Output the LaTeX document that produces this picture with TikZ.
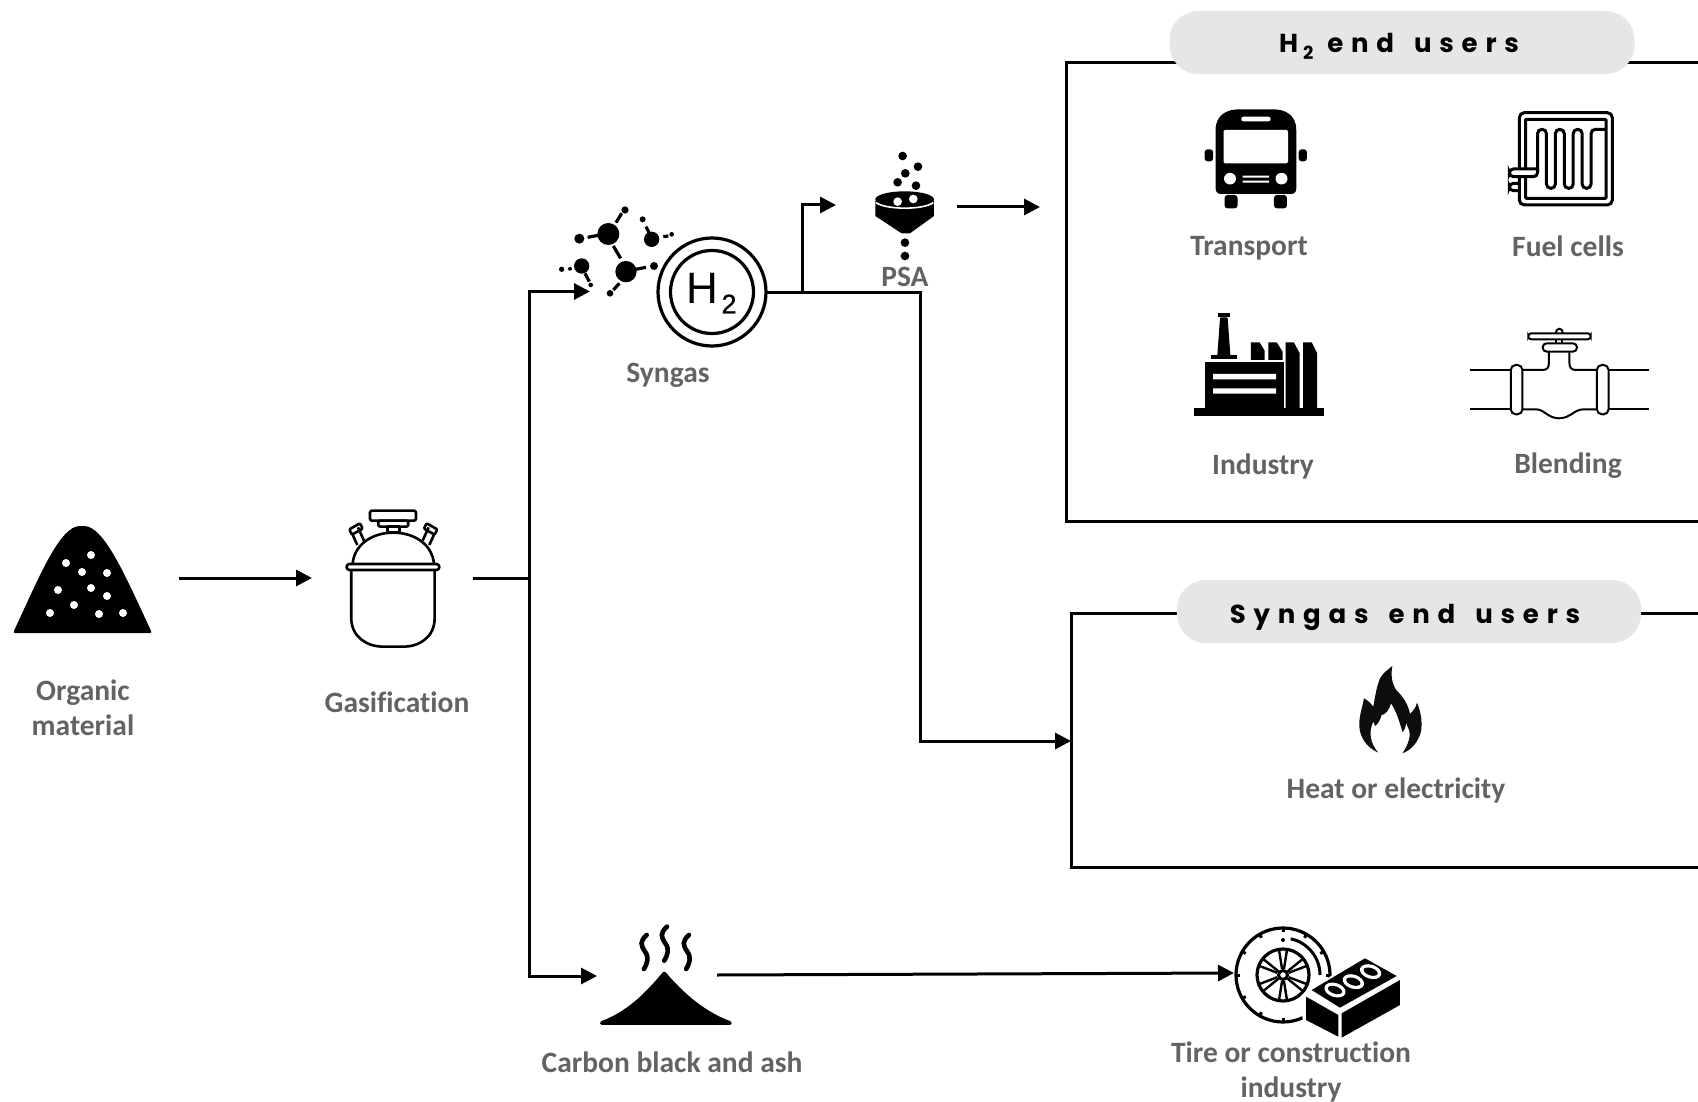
\documentclass[tikz,border=0pt]{standalone}
\usepackage{fontspec}
\setmainfont[Ligatures=NoCommon]{Carlito}
\newfontfamily\titlefont[LetterSpace=30]{Poppins}
\newfontfamily\symfont{Liberation Sans}
\newfontfamily\symboldfont[FakeBold=0.8]{Liberation Sans}
\usetikzlibrary{arrows.meta,calc}
\definecolor{lab}{HTML}{636363}
\definecolor{pillc}{HTML}{E6E6E6}
\tikzset{
  lbl/.style={text=lab,font=\fontsize{29.5}{35}\selectfont\bfseries,align=center,inner sep=0pt},
  ttl/.style={text=black,font=\fontsize{26}{30}\selectfont\titlefont\bfseries,inner sep=0pt},
  pill/.style={fill=pillc,rounded corners=29pt,minimum height=63pt,inner sep=0pt},
  conn/.style={line width=3pt,draw=black},
  arr/.style={conn,-{Triangle[length=16pt,width=16pt]}},
  frame/.style={line width=3pt,draw=black},
  ico/.style={line width=2.6pt,draw=black,line join=round},
  bond/.style={line width=3.2pt,draw=black}
}
\begin{document}
\begin{tikzpicture}[x=1pt,y=-1pt]
\useasboundingbox (0,0) rectangle (1698,1102);
\fill[white] (0,0) rectangle (1698,1102);

% frames
\draw[frame] (1190,63) -- (1066,63) -- (1066,521) -- (1698,521);
\draw[frame] (1620,63) -- (1698,63);
\draw[frame] (1190,613) -- (1071,613) -- (1071,867) -- (1698,867);
\draw[frame] (1630,613) -- (1698,613);
\node[pill,minimum width=465pt] (h2pill) at (1402,42.5) {};
\node[pill,minimum width=464pt] (sgpill) at (1409,611.5) {};
\node[ttl] (h2title) at (1399,46) {H\hspace{5pt}\raisebox{-7pt}{\fontsize{18}{18}\selectfont 2}\hspace{14pt}end\hspace{20pt}users};
\node[ttl] (sgtitle) at (1405,617) {Syngas\hspace{20pt}end\hspace{20pt}users};

% organic material
\fill[black,rounded corners=2pt] (13,633) .. controls (40,575) and (60,526) .. (82,526)
   .. controls (104,526) and (125,575) .. (152,633) -- cycle;
\foreach \p in {(66,563),(91,555),(82,572),(107,573),(58,590),(91,588),(107,596),(74,605),(50,613),(99,614),(123,613)}
  \fill[white] \p circle (4);

% reactor
\begin{scope}[shift={(0,490)},x=0.3333pt,y=-0.3333pt]
\draw[ico,rounded corners=2pt] (1110,62) rectangle (1248,92);
\draw[ico,rounded corners=2pt] (1135,92) rectangle (1225,110);
\draw[ico] (1162,110) rectangle (1198,128);
\draw[ico] (1072,165) -- (1056,130) (1092,152) -- (1074,112);
\draw[ico] (1288,165) -- (1304,130) (1268,152) -- (1286,112);
\draw[ico,rounded corners=1pt] (1048,118) -- (1080,100) -- (1088,116) -- (1056,134) -- cycle;
\draw[ico,rounded corners=1pt] (1312,118) -- (1280,100) -- (1272,116) -- (1304,134) -- cycle;
\draw[ico,fill=white] (1058,222) .. controls (1062,165) and (1115,128) .. (1180,128)
   .. controls (1245,128) and (1298,165) .. (1302,222);
\draw[ico,rounded corners=2.8pt,fill=white] (1040,222) rectangle (1318,240);
\draw[ico] (1054,240) -- (1054,385) .. controls (1054,440) and (1100,470) .. (1150,470)
   -- (1210,470) .. controls (1260,470) and (1304,440) .. (1304,385) -- (1304,240);
\end{scope}

% syngas molecule
\begin{scope}[shift={(540,130)},x=0.3333pt,y=-0.3333pt]
\foreach \a/\b/\r in {205/312/33,258/425/32,125/408/23,335/328/23,118/326/15,342/408/12,308/268/9,152/465/7,255/240/11,210/490/10,65/418/8,395/313/7}
  \fill[black] (\a,\b) circle (\r);
\draw[bond] (143,322) -- (175,316) (220,348) -- (242,385) (228,278) -- (245,250)
   (288,418) -- (318,412) (238,460) -- (220,480) (135,430) -- (148,455)
   (85,418) -- (95,415) (318,290) -- (328,310) (370,320) -- (385,318);
\end{scope}

% H2 circle
\node[circle,draw=black,line width=3.2pt,minimum size=108pt,inner sep=0pt] (h2c) at (712,292) {};
\draw[line width=3.2pt] (h2c.center) circle (41.5);
\node[inner sep=0pt,font=\fontsize{44}{44}\selectfont\symfont] (h2h) at (702,288) {H};
\node[inner sep=0pt,font=\fontsize{27}{27}\selectfont\symboldfont] (h2s) at (729,304) {2};

% PSA funnel
\begin{scope}[shift={(540,130)},x=0.3333pt,y=-0.3333pt]
\foreach \a/\b in {1088/78,1134/110,1096/130,1073/157,1128/167,1095/338,1095/378}
  \fill[black] (\a,\b) circle (13);
\fill[black] (1006,212) -- (1006,258) -- (1085,310) -- (1110,310) -- (1182,258) -- (1182,212) -- cycle;
\fill[black] (1094,208) ellipse (88 and 24);
\draw[white,line width=1.6pt] (1008,218) .. controls (1040,240) and (1150,240) .. (1180,218);
\fill[white] (1073,215) circle (13) (1120,207) circle (13);
\end{scope}

% bus
\begin{scope}[shift={(1160,80)},x=0.3432pt,y=-0.3333pt]
\fill[black] (162,150) .. controls (162,105) and (195,88) .. (230,88) -- (330,88)
   .. controls (365,88) and (397,105) .. (397,150) -- (397,325)
   .. controls (397,338) and (390,342) .. (380,342) -- (180,342)
   .. controls (170,342) and (162,338) .. (162,325) -- cycle;
\fill[white,rounded corners=1.5pt] (185,150) rectangle (373,250);
\fill[white,rounded corners=2pt] (237,110) rectangle (322,124);
\fill[white] (204,296) circle (17.5) (354,296) circle (17.5);
\fill[white] (241,287) rectangle (318,293) (241,302) rectangle (318,308);
\fill[black,rounded corners=3pt] (188,345) rectangle (226,385) (332,345) rectangle (370,385);
\fill[black,rounded corners=3pt] (130,208) rectangle (155,244) (404,208) rectangle (428,244);
\end{scope}

% fuel cell
\begin{scope}[shift={(1160,80)},x=0.3432pt,y=-0.3333pt]
\draw[line width=3pt,rounded corners=5pt] (1047,98) rectangle (1318,375);
\draw[line width=3pt,rounded corners=1pt] (1065,118) rectangle (1300,355);
\draw[line width=3pt,rounded corners=4.3pt] (1100,278) -- (1100,148) -- (1126,148) -- (1126,325) -- (1152,325)
   -- (1152,148) -- (1178,148) -- (1178,325) -- (1204,325) -- (1204,148) -- (1230,148) -- (1230,325) -- (1256,325)
   -- (1256,148) -- (1300,148);
\draw[line width=3pt,fill=white,rounded corners=4pt] (1100,267) -- (1018,267) -- (1018,290) -- (1100,290) -- (1100,267);
\draw[line width=3pt,rounded corners=4pt] (1047,310) -- (1018,310) -- (1018,332) -- (1047,332);
\end{scope}

% factory
\begin{scope}[shift={(1160,80)},x=0.3432pt,y=-0.3333pt]
\fill[black] (100,984) rectangle (478,1008);
\fill[black] (130,845) rectangle (362,984);
\fill[white] (155,882) rectangle (338,898) (155,925) rectangle (338,941);
\fill[black] (168,700) rectangle (204,712);
\fill[black] (175,712) -- (197,712) -- (205,826) -- (167,826) -- cycle;
\fill[black] (148,826) rectangle (225,838);
\fill[black] (265,787) -- (290,787) -- (305,812) -- (305,840) -- (265,840) -- cycle;
\fill[black] (316,787) -- (340,787) -- (357,815) -- (357,840) -- (316,840) -- cycle;
\fill[black] (366,787) -- (390,787) -- (407,820) -- (407,984) -- (366,984) -- cycle;
\fill[black] (417,787) -- (442,787) -- (458,820) -- (458,984) -- (417,984) -- cycle;
\end{scope}

% valve
\begin{scope}[shift={(1160,80)},x=0.3432pt,y=-0.3333pt,line width=2pt]
\draw (903,870) -- (1022,870) (903,988) -- (1022,988) (1307,870) -- (1425,870) (1307,988) -- (1425,988);
\draw[rounded corners=5pt] (1022,855) rectangle (1056,1003) (1273,855) rectangle (1307,1003);
\draw (1056,870) -- (1115,870) .. controls (1128,870) and (1133,862) .. (1133,850) -- (1133,815)
   (1193,815) -- (1193,850) .. controls (1193,862) and (1198,870) .. (1212,870) -- (1273,870);
\draw (1056,988) -- (1095,988) .. controls (1120,988) and (1130,1015) .. (1163,1015)
   .. controls (1196,1015) and (1206,988) .. (1235,988) -- (1273,988);
\draw[rounded corners=4pt] (1115,790) rectangle (1215,815);
\draw[rounded corners=3pt] (1073,760) rectangle (1255,778);
\draw (1155,778) -- (1155,790) (1172,778) -- (1172,790);
\draw (1153,760) .. controls (1153,742) and (1174,742) .. (1174,760);
\end{scope}

% flame
\begin{scope}[shift={(1240,600)},x=0.3333pt,y=-0.3333pt]
\fill[black!95] (415,458) .. controls (375,440) and (355,405) .. (358,365)
  .. controls (360,340) and (368,318) .. (372,295)
  .. controls (382,300) and (392,310) .. (400,320)
  .. controls (405,290) and (410,260) .. (420,235)
  .. controls (430,218) and (445,208) .. (457,198)
  .. controls (452,225) and (455,250) .. (470,272)
  .. controls (490,290) and (505,315) .. (510,342)
  .. controls (520,332) and (528,322) .. (531,308)
  .. controls (542,335) and (548,365) .. (543,395)
  .. controls (535,425) and (515,450) .. (487,460)
  .. controls (505,435) and (515,405) .. (505,385)
  .. controls (502,378) and (500,372) .. (498,368)
  .. controls (497,380) and (495,390) .. (488,397)
  .. controls (478,365) and (470,335) .. (453,310)
  .. controls (448,330) and (435,345) .. (425,345)
  .. controls (420,360) and (415,372) .. (405,378)
  .. controls (403,372) and (402,368) .. (400,365)
  .. controls (385,395) and (390,430) .. (415,458) -- cycle;
\end{scope}

% carbon black
\begin{scope}[shift={(560,910)},x=0.5486pt,y=-0.3333pt]
\fill[black,rounded corners=1.5pt] (73,345) -- (73,335) .. controls (130,300) and (165,230) .. (190,182)
   .. controls (215,230) and (255,300) .. (313,335) -- (313,345) -- cycle;
\foreach \a/\b in {155/75,232/75,192/50}
  \draw[line width=4.6pt,line cap=round] (\a+3,\b) .. controls (\a-10,\b+20) and (\a-8,\b+30) .. (\a,\b+50)
   .. controls (\a+8,\b+68) and (\a+4,\b+85) .. (\a-2,\b+102);
\end{scope}

% tire and brick
\coordinate (tc) at (1283,975);
\draw[line width=3.2pt] (tc) circle (47);
\foreach \t in {0,30,...,330}
  \draw[line width=3pt] ($(tc)+(\t:47)$) -- ($(tc)+(\t:43)$);
\draw[line width=3.2pt] (tc) circle (26);
\draw[line width=3pt] ($(tc)+(-78:37)$) arc[start angle=-78,end angle=0,radius=37];
\fill ($(tc)+(-90:35)$) circle (2);
\draw[line width=3pt] (tc) circle (4.5);
\foreach \t in {30,90,150,210,270,330} {
  \draw[line width=2.4pt] ($(tc)+(\t-9:6)$) -- ($(tc)+(\t-9:26)$);
  \draw[line width=2.4pt] ($(tc)+(\t+9:6)$) -- ($(tc)+(\t+9:26)$);
}
\begin{scope}[shift={(1220,915)},x=0.3333pt,y=-0.3333pt]
\fill[white] (245,240) -- (435,118) -- (550,180) -- (550,278) -- (360,380) -- (248,322) -- cycle;
\fill[black] (275,225) -- (435,130) -- (530,183) -- (360,278) -- cycle;
\fill[black] (258,245) -- (355,300) -- (355,365) -- (258,315) -- cycle;
\fill[black] (365,295) -- (540,195) -- (540,270) -- (365,368) -- cycle;
\foreach \a/\b in {345/225,400/200,452/170}{
  \fill[white,rotate around={-18:(\a,\b)}] (\a,\b) ellipse (33 and 21);
  \fill[black,rotate around={-18:(\a,\b)}] (\a,\b) ellipse (22 and 11);
}
\end{scope}

% connector anchors
\coordinate (orgout) at (179,578);
\coordinate (reacin) at (312,578);
\coordinate (reacout) at (473,578);
\coordinate (jct) at (529,578);
\coordinate (jtop) at (529,291.5);
\coordinate (jbot) at (529,976);
\coordinate (molin) at (590,291.5);
\coordinate (carbin) at (597,976);
\coordinate (h2out) at (767,292);
\coordinate (bran) at (802,292);
\coordinate (brup) at (802,205);
\coordinate (psain) at (836,205);
\coordinate (psaout) at (957,207);
\coordinate (h2box) at (1040,207);
\coordinate (corner1) at (920,292);
\coordinate (corner2) at (920,741);
\coordinate (sgbox) at (1071,741);
\coordinate (carbout) at (717,975);
\coordinate (tirein) at (1234,973);

\draw[arr] (orgout) -- (reacin);
\draw[conn] (reacout) -- (jct);
\draw[arr] (jct) -- (jtop) -- (molin);
\draw[arr] (jct) -- (jbot) -- (carbin);
\draw[conn] (h2out) -- (bran);
\draw[arr] (bran) -- (brup) -- (psain);
\draw[arr] (psaout) -- (h2box);
\draw[arr] (bran) -- (corner1) -- (corner2) -- (sgbox);
\draw[arr] (carbout) -- (tirein);

% labels
\node[lbl] (organic) at (83,708) {Organic\\material};
\node[lbl] (gasif) at (397,702) {Gasification};
\node[lbl] (syngas) at (668,375) {Syngas};
\node[lbl] (psa) at (905,277) {PSA};
\node[lbl] (transport) at (1249,248) {Transport};
\node[lbl] (fuel) at (1568,246) {Fuel cells};
\node[lbl] (industry) at (1263,466) {Industry};
\node[lbl] (blending) at (1568,466) {Blending};
\node[lbl] (heat) at (1396,790) {Heat or electricity};
\node[lbl] (carbon) at (672,1062) {Carbon black and ash};
\node[lbl] (tire) at (1291,1072) {Tire or construction\\industry};
\end{tikzpicture}
\end{document}
